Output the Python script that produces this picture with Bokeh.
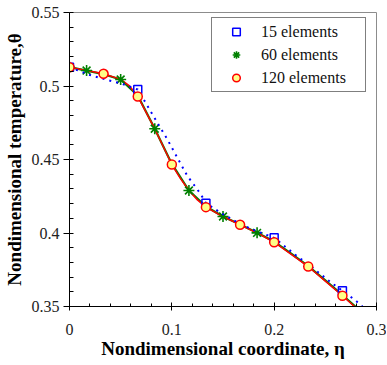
from bokeh.plotting import figure
from bokeh.models import (FixedTicker, CustomJSTickFormatter, Legend, LegendItem,
                          Range1d)
from bokeh.embed import file_html
from bokeh.resources import INLINE

# ---- data ----
# 15 elements (blue dotted line + squares)
eta_15_line = [0.0, 0.0213, 0.0366, 0.0513, 0.0667, 0.0741, 0.0855, 0.0953, 0.1051,
               0.1149, 0.128, 0.1333, 0.1492, 0.1639, 0.1769, 0.2, 0.2193, 0.2389,
               0.2552, 0.2667, 0.2797, 0.2862]
theta_15_line = [0.5128, 0.5071, 0.5042, 0.5015, 0.4976, 0.4890, 0.4754, 0.4641, 0.4516,
                 0.4391, 0.4267, 0.4203, 0.4131, 0.4073, 0.4029, 0.3967, 0.3859, 0.3756,
                 0.3665, 0.3607, 0.3540, 0.3500]
eta_15_pts = [0.0, 0.0667, 0.1333, 0.2, 0.2667]
theta_15_pts = [0.5128, 0.4976, 0.4203, 0.3967, 0.3607]

# 60 elements (green line + asterisks)
eta_60_line = [0.0, 0.0167, 0.0333, 0.05, 0.0667, 0.0833, 0.1, 0.1167, 0.1333, 0.15,
               0.1667, 0.1833, 0.2, 0.2167, 0.2333, 0.25, 0.2667, 0.2833]
theta_60_line = [0.5128, 0.5105, 0.5080, 0.5044, 0.4935, 0.4709, 0.4470, 0.4289, 0.4180,
                 0.4112, 0.4058, 0.4001, 0.3942, 0.3860, 0.3775, 0.3678, 0.3578, 0.3475]
eta_60_pts = [0.0, 0.0167, 0.05, 0.0833, 0.1167, 0.15, 0.1833]
theta_60_pts = [0.5128, 0.5105, 0.5044, 0.4709, 0.4289, 0.4112, 0.4001]

# 120 elements (red line + circles)
eta_120_line = [0.0, 0.0167, 0.0333, 0.05, 0.0583, 0.0667, 0.0833, 0.1, 0.1083, 0.1167,
                0.125, 0.1333, 0.15, 0.1667, 0.1833, 0.2, 0.2167, 0.2333, 0.25, 0.2667,
                0.2833]
theta_120_line = [0.5128, 0.5105, 0.5083, 0.5045, 0.5003, 0.4929, 0.4709, 0.4466, 0.4372,
                  0.4289, 0.4225, 0.4176, 0.4112, 0.4056, 0.4001, 0.3937, 0.3855, 0.3772,
                  0.3673, 0.3573, 0.3470]
eta_120_pts = [0.0, 0.0333, 0.0667, 0.1, 0.1333, 0.1667, 0.2, 0.2333, 0.2667]
theta_120_pts = [0.5128, 0.5083, 0.4929, 0.4466, 0.4176, 0.4056, 0.3937, 0.3772, 0.3573]

x_ticks = [0.0, 0.1, 0.2, 0.3]
x_minor = [0.0, 0.02, 0.04, 0.06, 0.08, 0.1, 0.12, 0.14, 0.16, 0.18, 0.2, 0.22, 0.24,
           0.26, 0.28, 0.3]
y_ticks = [0.35, 0.4, 0.45, 0.5, 0.55]
y_minor = [0.35, 0.36, 0.37, 0.38, 0.39, 0.4, 0.41, 0.42, 0.43, 0.44, 0.45, 0.46, 0.47,
           0.48, 0.49, 0.5, 0.51, 0.52, 0.53, 0.54, 0.55]

labels = ["15 elements", "60 elements", "120 elements"]

SERIF = "Liberation Serif"

p = figure(width=386, height=364, output_backend="svg", toolbar_location=None,
           x_range=Range1d(0, 0.3), y_range=Range1d(0.35, 0.55),
           min_border_left=69, min_border_right=10, min_border_top=12,
           min_border_bottom=58)
p.background_fill_color = "white"
p.border_fill_color = "white"
p.outline_line_color = "#8c8c8c"
p.outline_line_width = 1
p.xgrid.visible = False
p.ygrid.visible = False

fmt = CustomJSTickFormatter(code="return String(tick);")

p.xaxis.ticker = FixedTicker(ticks=x_ticks, minor_ticks=x_minor)
p.yaxis.ticker = FixedTicker(ticks=y_ticks, minor_ticks=y_minor)
p.xaxis.formatter = fmt
p.yaxis.formatter = fmt

for ax in (p.xaxis[0], p.yaxis[0]):
    ax.axis_line_color = "black"
    ax.major_tick_line_color = "black"
    ax.minor_tick_line_color = "black"
    ax.major_label_text_font = SERIF
    ax.major_label_text_font_size = "16px"
    ax.major_label_text_color = "#222222"
    ax.axis_label_text_font = SERIF
    ax.axis_label_text_font_style = "bold"
    ax.axis_label_text_font_size = "19px"
    ax.axis_label_text_color = "black"

p.yaxis.major_tick_out = 6
p.yaxis.major_tick_in = 0
p.yaxis.minor_tick_out = 0
p.yaxis.minor_tick_in = 4
p.yaxis.major_label_standoff = 4
p.yaxis.axis_label_standoff = 4
p.yaxis.major_label_text_align = "center"
p.yaxis.axis_label = "Nondimensional temperature,\u03b8"

p.xaxis.major_tick_out = 4
p.xaxis.major_tick_in = 4
p.xaxis.minor_tick_out = 0
p.xaxis.minor_tick_in = 3
p.xaxis.major_label_standoff = 13
p.xaxis.axis_label_standoff = 0
p.xaxis.axis_label = "Nondimensional coordinate, \u03b7"

# green (60 elements) line, under red
p.line(eta_60_line, theta_60_line, line_color="#008000", line_width=2.2)
# red line (120 elements)
p.line(eta_120_line, theta_120_line, line_color="#ff0000", line_width=1.5)
# green asterisks
r60 = p.scatter(eta_60_pts, theta_60_pts, marker="asterisk", size=11,
                line_color="#008000", line_width=1.6)
# blue dotted line and squares (15 elements)
p.line(eta_15_line, theta_15_line, line_color="#0000ff", line_width=2, line_dash="2 5")
r15 = p.scatter(eta_15_pts, theta_15_pts, marker="square", size=8,
                line_color="#0000ff", line_width=1.5, fill_color=None)
# red circles (120 elements)
r120 = p.scatter(eta_120_pts, theta_120_pts, marker="circle", size=9,
                 line_color="#ff0000", line_width=1.5, fill_color="#ffff88")

legend = Legend(items=[LegendItem(label=labels[0], renderers=[r15]),
                       LegendItem(label=labels[1], renderers=[r60]),
                       LegendItem(label=labels[2], renderers=[r120])],
                location=(142, 214))
legend.border_line_color = "black"
legend.border_line_width = 1
legend.background_fill_color = "white"
legend.background_fill_alpha = 1
legend.label_text_font = SERIF
legend.label_text_font_size = "16px"
legend.label_text_color = "#111111"
legend.label_height = 19
legend.glyph_height = 19
legend.glyph_width = 40
legend.label_width = 100
legend.label_standoff = 5
legend.spacing = 4
legend.padding = 4
legend.margin = 0
p.add_layout(legend, "center")

open("out.html", "w").write(file_html(p, INLINE))
